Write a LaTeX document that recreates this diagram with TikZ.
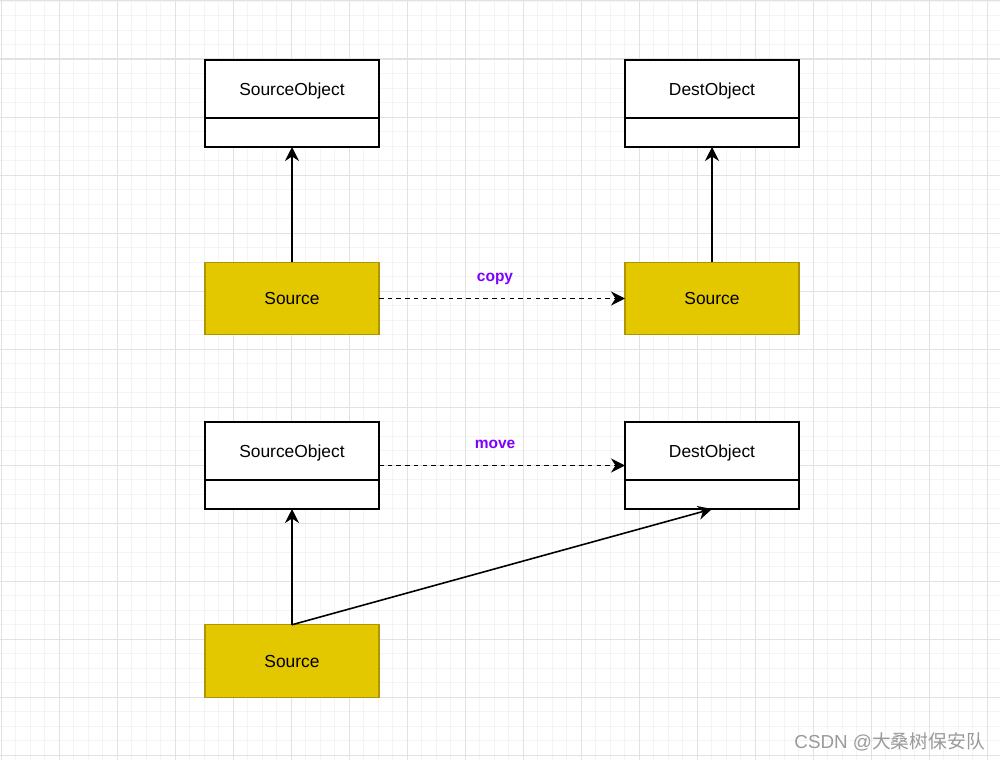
\documentclass[tikz,border=0pt]{standalone}
\usepackage{fontspec}
\setmainfont{Liberation Sans}
\newfontfamily\cjk{Noto Sans CJK SC}
\usetikzlibrary{arrows.meta,calc}
\definecolor{srcfill}{HTML}{E3C800}
\definecolor{srcdraw}{HTML}{B09500}
\definecolor{lblpurple}{HTML}{7F00FF}
\definecolor{gridminor}{HTML}{F4F4F4}
\definecolor{gridmajor}{HTML}{E2E2E2}
\definecolor{wmgray}{HTML}{9A9A9A}
\tikzset{
  classbox/.style={draw=black, line width=1.45pt, fill=white, minimum width=174pt, minimum height=87pt, inner sep=0pt, outer sep=0pt},
  srcbox/.style={draw=srcdraw, line width=1.45pt, fill=srcfill, minimum width=174pt, minimum height=72.5pt, inner sep=0pt, outer sep=0pt, text depth=0pt, font=\fontsize{17.4pt}{20pt}\selectfont},
  classtext/.style={font=\fontsize{17.4pt}{20pt}\selectfont, inner sep=0pt},
  arr/.style={line width=1.6pt, -{Stealth[length=14pt,width=14pt,inset=4.5pt]}},
  dasharr/.style={arr, dash pattern=on 4.5pt off 4.2pt},
  edgelbl/.style={font=\fontsize{15.5pt}{18pt}\selectfont\bfseries, text=lblpurple, inner sep=0pt},
}
\begin{document}
\begin{tikzpicture}[x=1pt,y=-1pt]
\useasboundingbox (0,0) rectangle (1000,760);
\fill[white] (0,0) rectangle (1000,760);
% grid
\foreach \i in {0,...,69} {
  \draw[gridminor, line width=0.9pt] ({1+14.5*\i},0) -- ({1+14.5*\i},760);
}
\foreach \i in {0,...,52} {
  \draw[gridminor, line width=0.9pt] (0,{1+14.5*\i}) -- (1000,{1+14.5*\i});
}
\foreach \i in {0,...,17} {
  \draw[gridmajor, line width=1pt] ({1+58*\i},0) -- ({1+58*\i},760);
}
\foreach \i in {0,...,13} {
  \draw[gridmajor, line width=1pt] (0,{1+58*\i}) -- (1000,{1+58*\i});
}
% top group
\node[classbox] (so1) at (292,103.5) {};
\draw[line width=1.45pt] ($(so1.north west)+(0,58)$) -- ($(so1.north east)+(0,58)$);
\node[classtext] (so1t) at ($(so1.north)+(0,31)$) {SourceObject};
\node[classbox] (do1) at (712,103.5) {};
\draw[line width=1.45pt] ($(do1.north west)+(0,58)$) -- ($(do1.north east)+(0,58)$);
\node[classtext] (do1t) at ($(do1.north)+(0,31)$) {DestObject};
\node[srcbox] (s1) at (292,298.5) {Source};
\node[srcbox] (s2) at (712,298.5) {Source};
\draw[arr] (s1.north) -- (so1.south);
\draw[arr] (s2.north) -- (do1.south);
\draw[dasharr] (s1.east) -- (s2.west);
\node[edgelbl] (lcopy) at (495,279) {copy};
% bottom group
\node[classbox] (so2) at (292,465.5) {};
\draw[line width=1.45pt] ($(so2.north west)+(0,58)$) -- ($(so2.north east)+(0,58)$);
\node[classtext] (so2t) at ($(so2.north)+(0,31)$) {SourceObject};
\node[classbox] (do2) at (712,465.5) {};
\draw[line width=1.45pt] ($(do2.north west)+(0,58)$) -- ($(do2.north east)+(0,58)$);
\node[classtext] (do2t) at ($(do2.north)+(0,31)$) {DestObject};
\node[srcbox] (s3) at (292,661) {Source};
\draw[arr] (s3.north) -- (so2.south);
\draw[arr] (s3.north) -- (do2.south);
\draw[dasharr] (so2.east) -- (do2.west);
\node[edgelbl] (lmove) at (495,444) {move};
% watermark
\node[anchor=east, text=wmgray, inner sep=0pt, font=\fontsize{18.8pt}{20pt}\selectfont] (wm) at (985,742) {CSDN @{\cjk 大桑树保安队}};
\end{tikzpicture}
\end{document}
